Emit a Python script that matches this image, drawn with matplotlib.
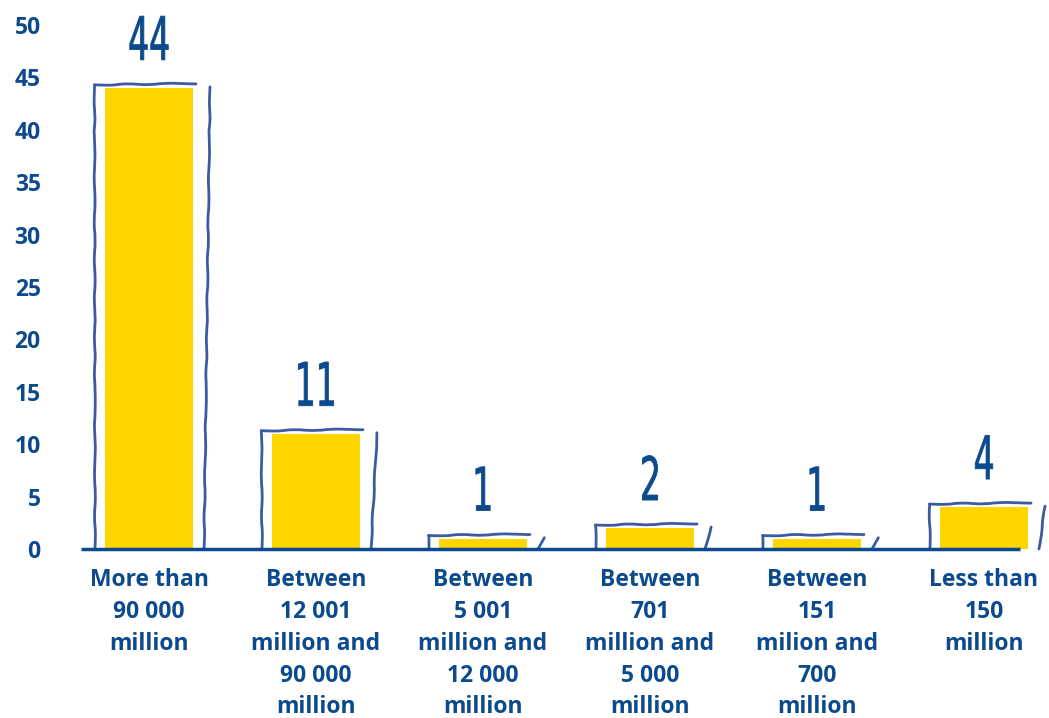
import matplotlib
matplotlib.use("Agg")
import matplotlib.pyplot as plt
import matplotlib.transforms as mtransforms
from matplotlib.textpath import TextPath
from matplotlib.patches import PathPatch
from matplotlib.font_manager import FontProperties
import numpy as np

categories = [
    "More than\n90 000\nmillion",
    "Between\n12 001\nmillion and\n90 000\nmillion",
    "Between\n5 001\nmillion and\n12 000\nmillion",
    "Between\n701\nmillion and\n5 000\nmillion",
    "Between\n151\nmilion and\n700\nmillion",
    "Less than\n150\nmillion",
]
values = [44, 11, 1, 2, 1, 4]
yticks = [0, 5, 10, 15, 20, 25, 30, 35, 40, 45, 50]

BLUE = "#0b4a8c"
LINE = "#3c5aa2"
YELLOW = "#ffd500"

fig = plt.figure(figsize=(10.49, 7.18), dpi=100)
ax = fig.add_axes([81 / 1049, 169 / 718, 1 - 81 / 1049, 524 / 718])

x = np.arange(len(values))
px = 167.0  # pixels per x unit
width = 88 / px
bars = ax.bar(x, values, width=width, color=YELLOW, zorder=2)

ax.set_xlim(-68 / px, (1049 - 149) / px)
ax.set_ylim(0, 50)
ppu = 524 / 50.0  # pixels per y unit

num_fp = FontProperties(family="DejaVu Sans", weight="normal")

for b, v in zip(bars, values):
    l = b.get_x()
    r = l + b.get_width()
    top = v + 3 / ppu
    kw = dict(color=LINE, lw=2.0, solid_capstyle="round", zorder=3, clip_on=False)
    ln, = ax.plot([l - 10 / px, l - 10.5 / px], [0, top], **kw)
    ln.set_sketch_params(scale=0.4, length=60, randomness=4)
    ln, = ax.plot([l - 10.5 / px, r + 3 / px], [top, top + 1.5 / ppu], **kw)
    ln.set_sketch_params(scale=0.5, length=60, randomness=4)
    ln, = ax.plot([r + 11 / px, r + 17 / px], [0, v + 1 / ppu], **kw)
    ln.set_sketch_params(scale=0.4, length=60, randomness=4)

    # hand-drawn style number: condensed text path
    tp = TextPath((0, 0), str(v), size=60, prop=num_fp)
    ext = tp.get_extents()
    cx = (ext.x0 + ext.x1) / 2
    xc = b.get_x() + b.get_width() / 2
    trans = (mtransforms.Affine2D().translate(-cx, -ext.y0).scale(0.55, 1.0)
             .translate(0, 25)
             + mtransforms.ScaledTranslation(xc, top, ax.transData))
    patch = PathPatch(tp, transform=trans, facecolor=BLUE, edgecolor=BLUE,
                      lw=0.6, joinstyle="round", zorder=5, clip_on=False)
    ax.add_artist(patch)

xmin = ax.get_xlim()[0]
ax.plot([xmin, bars[-1].get_x() + bars[-1].get_width() - 8 / px], [0, 0],
        color=BLUE, lw=2.5, zorder=4, clip_on=False, solid_capstyle="butt")

for s in ax.spines.values():
    s.set_visible(False)
ax.set_yticks(yticks)
ax.set_yticklabels([str(t) for t in yticks])
ax.tick_params(axis="y", length=0, pad=29, labelsize=16, labelcolor=BLUE)
for t in ax.get_yticklabels():
    t.set_fontproperties(FontProperties(family="Open Sans", weight="bold", size=16.5))

ax.set_xticks(x)
ax.set_xticklabels(categories)
ax.tick_params(axis="x", length=0, pad=14, labelcolor=BLUE)
for t in ax.get_xticklabels():
    t.set_fontproperties(FontProperties(family="Open Sans", weight="bold", size=16.5))
    t.set_linespacing(1.43)
    t.set_ha("center")

fig.savefig("out.png", dpi=100)
